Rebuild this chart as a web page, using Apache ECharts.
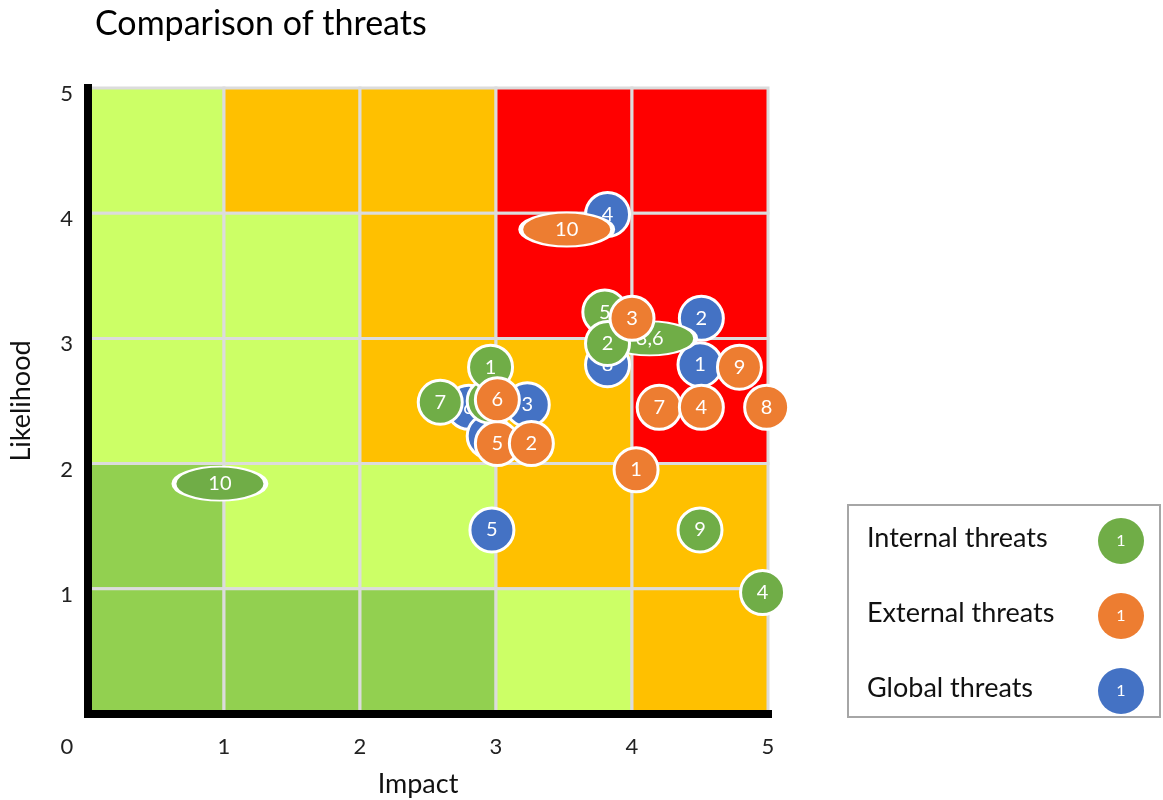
<!DOCTYPE html>
<html>
<head>
<meta charset="utf-8">
<title>Comparison of threats</title>
<script src="https://cdn.jsdelivr.net/npm/echarts@6/dist/echarts.min.js"></script>
<style>
  html, body { margin: 0; padding: 0; background: #ffffff; }
  #chart { width: 1163px; height: 800px; }
</style>
</head>
<body>
<div id="chart"></div>
<script>
// Axis ticks
const impactTicks = [0, 1, 2, 3, 4, 5];
const likelihoodTicks = [1, 2, 3, 4, 5];

// Risk level of each 1x1 cell: rows go from likelihood 4-5 down to 0-1,
// columns from impact 0-1 to 4-5 (0 low, 1 moderate, 2 high, 3 critical)
const riskRows = [
  [1, 2, 2, 3, 3],
  [1, 1, 2, 3, 3],
  [1, 1, 2, 2, 3],
  [0, 1, 1, 2, 2],
  [0, 0, 0, 1, 2]
];

const seriesNames = ['Internal threats', 'External threats', 'Global threats'];

// Global threats
const globalIds = ['6', '7', '8', '5', '3', '1', '2', '4'];
const globalImpact = [2.80, 2.95, 3.82, 2.97, 3.23, 4.50, 4.51, 3.82];
const globalLikelihood = [2.45, 2.22, 2.79, 1.47, 2.47, 2.79, 3.16, 3.99];

// Internal threats
const internalIds = ['10', '3,6', '5', '2', '8', '1', '7', '9', '4'];
const internalImpact = [0.97, 4.13, 3.80, 3.82, 2.95, 2.96, 2.59, 4.50, 4.96];
const internalLikelihood = [1.84, 3.00, 3.21, 2.96, 2.50, 2.77, 2.49, 1.47, 0.97];

// External threats
const externalIds = ['10', '3', '1', '5', '2', '6', '7', '4', '9', '8'];
const externalImpact = [3.52, 4.00, 4.03, 3.01, 3.26, 3.01, 4.20, 4.51, 4.79, 4.99];
const externalLikelihood = [3.87, 3.16, 1.95, 2.16, 2.16, 2.51, 2.45, 2.45, 2.77, 2.45];

// ---- styling ----
const FONT = 'Lato, "Open Sans", sans-serif';
const riskColors = ['#92D050', '#CCFF66', '#FFC000', '#FF0000'];
const threatColors = {
  'Internal threats': '#70AD47',
  'External threats': '#ED7D31',
  'Global threats': '#4472C4'
};
const ELLIPSE = 'path://M50,0 C77.6,0 100,22.4 100,50 C100,77.6 77.6,100 50,100 C22.4,100 0,77.6 0,50 C0,22.4 22.4,0 50,0 Z';

// cells of the risk matrix
const cellData = [];
riskRows.forEach((row, r) => {
  row.forEach((level, c) => {
    cellData.push([c, riskRows.length - 1 - r, level]);
  });
});

function bubbleData(ids, xs, ys) {
  return ids.map((id, i) => ({ name: id, value: [xs[i], ys[i]] }));
}

function bubbleSeries(name, ids, xs, ys, z) {
  return {
    name: name,
    type: 'scatter',
    z: z,
    data: bubbleData(ids, xs, ys),
    // threats sharing a bubble (several ids) get an oval mark
    symbol: (val, params) => params.name.length > 1 ? ELLIPSE : 'circle',
    symbolSize: (val, params) => params.name.length > 1 ? [92, 34] : 44,
    symbolKeepAspect: false,
    itemStyle: {
      color: threatColors[name],
      opacity: 1,
      borderColor: '#ffffff',
      borderWidth: 3
    },
    label: {
      show: true,
      position: 'inside',
      formatter: p => p.name,
      color: '#ffffff',
      fontFamily: FONT,
      fontSize: 20
    },
    emphasis: { disabled: true },
    silent: true
  };
}

// legend drawn as a boxed list: name on the left, sample bubble on the right
const legendX = 848, legendY = 505, legendW = 312, legendH = 212;
const legendGraphics = [{
  type: 'rect',
  shape: { x: legendX, y: legendY, width: legendW, height: legendH },
  style: { fill: '#ffffff', stroke: '#A6A6A6', lineWidth: 2 },
  z: 10
}];
seriesNames.forEach((name, i) => {
  const cy = legendY + 36 + i * 75;
  legendGraphics.push({
    type: 'text',
    x: legendX + 19,
    y: cy - 3,
    style: {
      text: name,
      font: '27px ' + FONT,
      fill: '#111111',
      verticalAlign: 'middle',
      align: 'left'
    },
    z: 11
  });
  legendGraphics.push({
    type: 'circle',
    shape: { cx: legendX + 273, cy: cy, r: 23 },
    style: { fill: threatColors[name] },
    z: 11
  });
  legendGraphics.push({
    type: 'text',
    x: legendX + 273,
    y: cy,
    style: {
      text: '1',
      font: '16px ' + FONT,
      fill: '#ffffff',
      align: 'center',
      verticalAlign: 'middle'
    },
    z: 12
  });
});

const chart = echarts.init(document.getElementById('chart'), null, { renderer: 'canvas' });

const option = {
  backgroundColor: '#ffffff',
  animation: false,
  title: {
    text: 'Comparison of threats',
    left: 90,
    top: 2,
    textStyle: {
      fontFamily: FONT,
      fontSize: 34,
      fontWeight: 'normal',
      color: '#000000'
    }
  },
  grid: { left: 88, right: 395, top: 88, bottom: 86, outerBoundsMode: 'none', containLabel: false },
  xAxis: {
    type: 'value',
    min: impactTicks[0],
    max: impactTicks[impactTicks.length - 1],
    interval: 1,
    offset: 5,
    z: 5,
    name: 'Impact',
    nameLocation: 'middle',
    nameGap: 52,
    nameTextStyle: { fontFamily: FONT, fontSize: 27, color: '#111111', padding: [0, 20, 0, 0] },
    axisLine: { show: true, lineStyle: { color: '#000000', width: 8, cap: 'square' } },
    axisTick: { show: false },
    splitLine: { show: false },
    axisLabel: {
      margin: 17,
      fontFamily: FONT,
      fontSize: 22,
      color: '#222222',
      formatter: v => impactTicks.indexOf(v) === 0 ? '{z|' + v + '}' : String(v),
      rich: { z: { fontFamily: FONT, fontSize: 22, color: '#222222', padding: [0, 42, 0, 0] } }
    }
  },
  yAxis: {
    type: 'value',
    min: 0,
    max: likelihoodTicks[likelihoodTicks.length - 1],
    interval: 1,
    offset: 5,
    z: 5,
    name: 'Likelihood',
    nameLocation: 'middle',
    nameGap: 48,
    nameRotate: 90,
    nameTextStyle: { fontFamily: FONT, fontSize: 27, color: '#111111' },
    axisLine: { show: true, lineStyle: { color: '#000000', width: 8, cap: 'square' } },
    axisTick: { show: false },
    splitLine: { show: false },
    axisLabel: {
      showMinLabel: false,
      margin: 10,
      fontFamily: FONT,
      fontSize: 22,
      color: '#222222',
      formatter: v => likelihoodTicks.indexOf(v) >= 0 ? '{t|' + v + '}' : '',
      rich: { t: { fontFamily: FONT, fontSize: 22, color: '#222222', padding: [12, 0, 0, 0] } }
    }
  },
  graphic: legendGraphics,
  series: [
    {
      name: 'Risk matrix',
      type: 'custom',
      z: 1,
      silent: true,
      coordinateSystem: 'cartesian2d',
      encode: { x: 0, y: 1 },
      data: cellData,
      renderItem: (params, api) => {
        const x0 = api.value(0), y0 = api.value(1);
        const topLeft = api.coord([x0, y0 + 1]);
        const bottomRight = api.coord([x0 + 1, y0]);
        return {
          type: 'rect',
          shape: {
            x: topLeft[0],
            y: topLeft[1],
            width: bottomRight[0] - topLeft[0],
            height: bottomRight[1] - topLeft[1]
          },
          style: { fill: riskColors[api.value(2)], stroke: '#DCDCDC', lineWidth: 3 }
        };
      }
    },
    bubbleSeries('Global threats', globalIds, globalImpact, globalLikelihood, 2),
    bubbleSeries('Internal threats', internalIds, internalImpact, internalLikelihood, 3),
    bubbleSeries('External threats', externalIds, externalImpact, externalLikelihood, 4)
  ]
};

chart.setOption(option);
</script>
</body>
</html>
